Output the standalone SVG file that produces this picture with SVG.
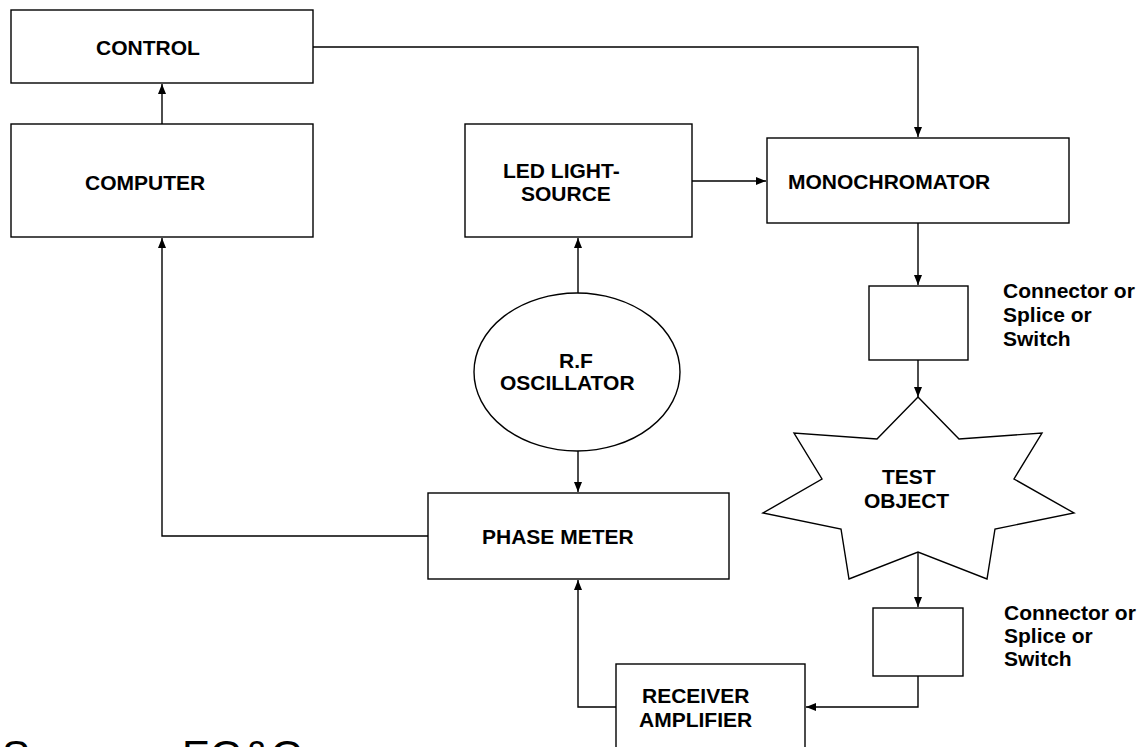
<svg xmlns="http://www.w3.org/2000/svg" width="1142" height="747" viewBox="0 0 1142 747">
<style>
.box{fill:#fff;stroke:#000;stroke-width:1.4}
.t{font-family:"Liberation Sans",Arial,sans-serif;font-weight:bold;font-size:21px;fill:#000}
.c{fill:none;stroke:#000;stroke-width:1.4}
</style>
<defs>
<marker id="ah" viewBox="0 0 10 10" refX="10" refY="5" markerWidth="10" markerHeight="10" markerUnits="userSpaceOnUse" orient="auto">
<path d="M0,1 L10,5 L0,9 Z" fill="#000"/>
</marker>
</defs>
<rect width="1142" height="747" fill="#fff"/>
<g id="connectors">
<polyline class="c" points="313,47 918,47 918,137" marker-end="url(#ah)"/>
<line class="c" x1="162" y1="124" x2="162" y2="84" marker-end="url(#ah)"/>
<polyline class="c" points="428,536 162,536 162,238" marker-end="url(#ah)"/>
<line class="c" x1="578" y1="294" x2="578" y2="238" marker-end="url(#ah)"/>
<line class="c" x1="692" y1="181" x2="766" y2="181" marker-end="url(#ah)"/>
<line class="c" x1="578" y1="451" x2="578" y2="492" marker-end="url(#ah)"/>
<line class="c" x1="918" y1="223" x2="918" y2="285" marker-end="url(#ah)"/>
<line class="c" x1="918" y1="360" x2="918" y2="397" marker-end="url(#ah)"/>
<line class="c" x1="918" y1="552" x2="918" y2="607" marker-end="url(#ah)"/>
<polyline class="c" points="918,676 918,707 806,707" marker-end="url(#ah)"/>
<polyline class="c" points="616,707 578,707 578,580" marker-end="url(#ah)"/>
</g>
<g id="control">
<rect class="box" x="11" y="10" width="302" height="73"/>
<text class="t" x="96" y="55">CONTROL</text>
</g>
<g id="computer">
<rect class="box" x="11" y="124" width="302" height="113"/>
<text class="t" x="85" y="190">COMPUTER</text>
</g>
<g id="led">
<rect class="box" x="465" y="124" width="227" height="113"/>
<text class="t" x="503" y="178">LED LIGHT-</text>
<text class="t" x="521" y="201">SOURCE</text>
</g>
<g id="monochromator">
<rect class="box" x="767" y="138" width="302" height="85"/>
<text class="t" x="788" y="189">MONOCHROMATOR</text>
</g>
<g id="oscillator">
<ellipse class="box" cx="577" cy="372" rx="103" ry="79"/>
<text class="t" x="559" y="368">R.F</text>
<text class="t" x="500" y="390">OSCILLATOR</text>
</g>
<g id="phasemeter">
<rect class="box" x="428" y="493" width="301" height="86"/>
<text class="t" x="482" y="544">PHASE METER</text>
</g>
<g id="connector1">
<rect class="box" x="869" y="286" width="99" height="74"/>
<text class="t" x="1003" y="298">Connector or</text>
<text class="t" x="1003" y="322">Splice or</text>
<text class="t" x="1003" y="346">Switch</text>
</g>
<g id="testobject">
<polygon class="box" points="918,397 959,439 1042,433 1014,479 1074,513 995,529 987,579 918,552 849,579 841,529 763,513 822,479 794,433 877,439"/>
<text class="t" x="882" y="484">TEST</text>
<text class="t" x="864" y="508">OBJECT</text>
</g>
<g id="connector2">
<rect class="box" x="873" y="608" width="90" height="68"/>
<text class="t" x="1004" y="620">Connector or</text>
<text class="t" x="1004" y="643">Splice or</text>
<text class="t" x="1004" y="666">Switch</text>
</g>
<g id="receiver">
<rect class="box" x="616" y="664" width="189" height="100"/>
<text class="t" x="642" y="703">RECEIVER</text>
<text class="t" x="639" y="727">AMPLIFIER</text>
</g>
<text x="2" y="770" font-family="Liberation Sans, Arial, sans-serif" font-size="42" fill="#000">Source: <tspan x="182">EG&amp;G</tspan></text>
</svg>
